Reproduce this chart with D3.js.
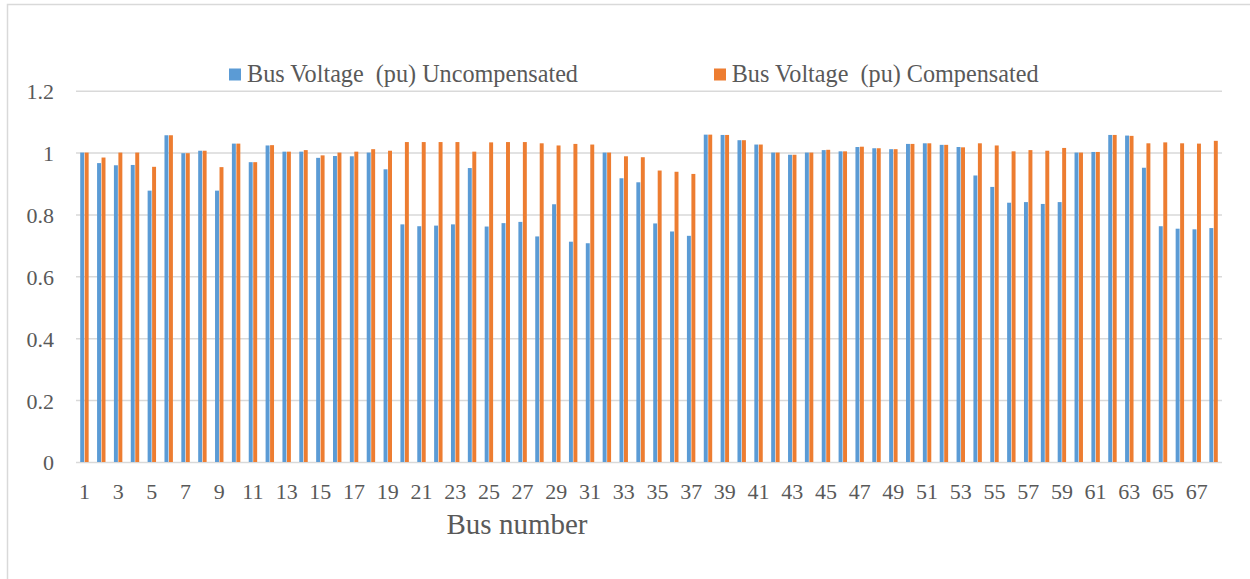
<!DOCTYPE html>
<html>
<head>
<meta charset="utf-8">
<script src="https://cdn.jsdelivr.net/npm/d3@7"></script>
<style>
  html, body { margin: 0; padding: 0; background: #fff; }
  svg { display: block; }
  text { font-family: "Liberation Serif", "Times New Roman", serif; fill: #595959; }
</style>
</head>
<body>
<svg id="chart" width="1250" height="579"></svg>
<script>
const buses = d3.range(1, 69).map(String);
const seriesNames = ["Bus Voltage  (pu) Uncompensated", "Bus Voltage  (pu) Compensated"];
const uncompensated = [1.000,0.966,0.959,0.960,0.877,1.056,0.998,1.006,0.877,1.029,
  0.969,1.023,1.003,1.003,0.983,0.989,0.988,1.000,0.946,0.768,
  0.762,0.764,0.768,0.950,0.761,0.772,0.776,0.729,0.833,0.712,
  0.707,1.000,0.917,0.904,0.771,0.745,0.731,1.058,1.057,1.040,
  1.026,1.000,0.993,1.000,1.008,1.004,1.018,1.014,1.011,1.028,
  1.030,1.025,1.018,0.926,0.889,0.838,0.840,0.834,0.840,1.000,
  1.002,1.057,1.055,0.951,0.762,0.754,0.752,0.756];
const compensated = [1.000,0.984,1.000,1.000,0.954,1.056,0.998,1.006,0.953,1.029,
  0.969,1.024,1.003,1.008,0.991,1.000,1.003,1.011,1.006,1.034,
  1.034,1.034,1.034,1.003,1.033,1.034,1.034,1.030,1.023,1.028,
  1.026,1.000,0.988,0.985,0.942,0.938,0.931,1.058,1.057,1.040,
  1.026,1.000,0.993,1.000,1.009,1.004,1.019,1.014,1.011,1.028,
  1.030,1.025,1.017,1.030,1.023,1.004,1.008,1.006,1.015,1.000,
  1.002,1.057,1.054,1.030,1.033,1.030,1.029,1.038];
const yTicks = [0, 0.2, 0.4, 0.6, 0.8, 1, 1.2];
const yTickLabels = ["0", "0.2", "0.4", "0.6", "0.8", "1", "1.2"];
const xTickLabels = buses.filter((d, i) => i % 2 === 0);
const colors = ["#5B9BD5", "#ED7D31"];
const xTitle = "Bus number";

(function () {
const FONT = '"Liberation Serif", "Times New Roman", serif';
const svg = d3.select("#chart");

// outer chart border
svg.append("rect").attr("x", 7.5).attr("y", 4.5).attr("width", 1300).attr("height", 650)
  .attr("fill", "none").attr("stroke", "#D9D9D9").attr("stroke-width", 1.5);

const pLeft = 76, pRight = 1222, pTop = 90.7, pBottom = 462;
const x0 = d3.scaleBand().domain(buses).range([pLeft, pRight]).paddingInner(0.5).paddingOuter(0.25);
const x1 = d3.scaleBand().domain([0, 1]).range([0, x0.bandwidth()]).paddingInner(0.12);
const y = d3.scaleLinear().domain([0, 1.2]).range([pBottom, pTop]);

// gridlines + y labels
const yAxis = d3.axisLeft(y).tickValues(yTicks).tickSize(-(pRight - pLeft))
  .tickFormat((d, i) => yTickLabels[i]);
const gy = svg.append("g").attr("transform", `translate(${pLeft},0)`).call(yAxis)
  .attr("font-family", null);
gy.select(".domain").remove();
gy.selectAll(".tick line").attr("stroke", "#D9D9D9").attr("stroke-width", 1.5);
gy.selectAll(".tick text").attr("x", -22).attr("dy", "0.36em")
  .style("font-size", "22px").style("font-family", FONT).attr("fill", "#595959");

// bars
const values = [uncompensated, compensated];
const groups = svg.append("g").selectAll("g").data(buses).join("g")
  .attr("transform", d => `translate(${x0(d)},0)`);
groups.selectAll("rect").data((d, i) => [0, 1].map(s => ({ s, v: values[s][i] }))).join("rect")
  .attr("x", d => x1(d.s))
  .attr("width", x1.bandwidth())
  .attr("y", d => y(d.v))
  .attr("height", d => y(0) - y(d.v))
  .attr("fill", d => colors[d.s]);

// x axis labels
const xAxis = d3.axisBottom(x0).tickValues(xTickLabels).tickSize(0).tickPadding(0);
const gx = svg.append("g").attr("transform", `translate(0,${pBottom})`).call(xAxis)
  .attr("font-family", null);
gx.select(".domain").remove();
gx.selectAll(".tick text").attr("y", 37).attr("dy", 0)
  .style("font-size", "22px").style("font-family", FONT).attr("fill", "#595959");

// axis title
svg.append("text").attr("x", 517).attr("y", 534).attr("text-anchor", "middle")
  .style("font-family", FONT).style("font-size", "29px").text(xTitle);

// legend
const legendX = [229, 714];
const lg = svg.append("g").selectAll("g").data(seriesNames).join("g")
  .attr("transform", (d, i) => `translate(${legendX[i]},0)`);
lg.append("rect").attr("x", 0).attr("y", 68.5).attr("width", 12).attr("height", 12)
  .attr("fill", (d, i) => colors[i]);
lg.append("text").attr("x", (d, i) => i === 0 ? 18 : 17.7).attr("y", 82)
  .style("font-family", FONT).style("font-size", "24.2px").style("white-space", "pre").text(d => d);
})();
</script>
</body>
</html>
